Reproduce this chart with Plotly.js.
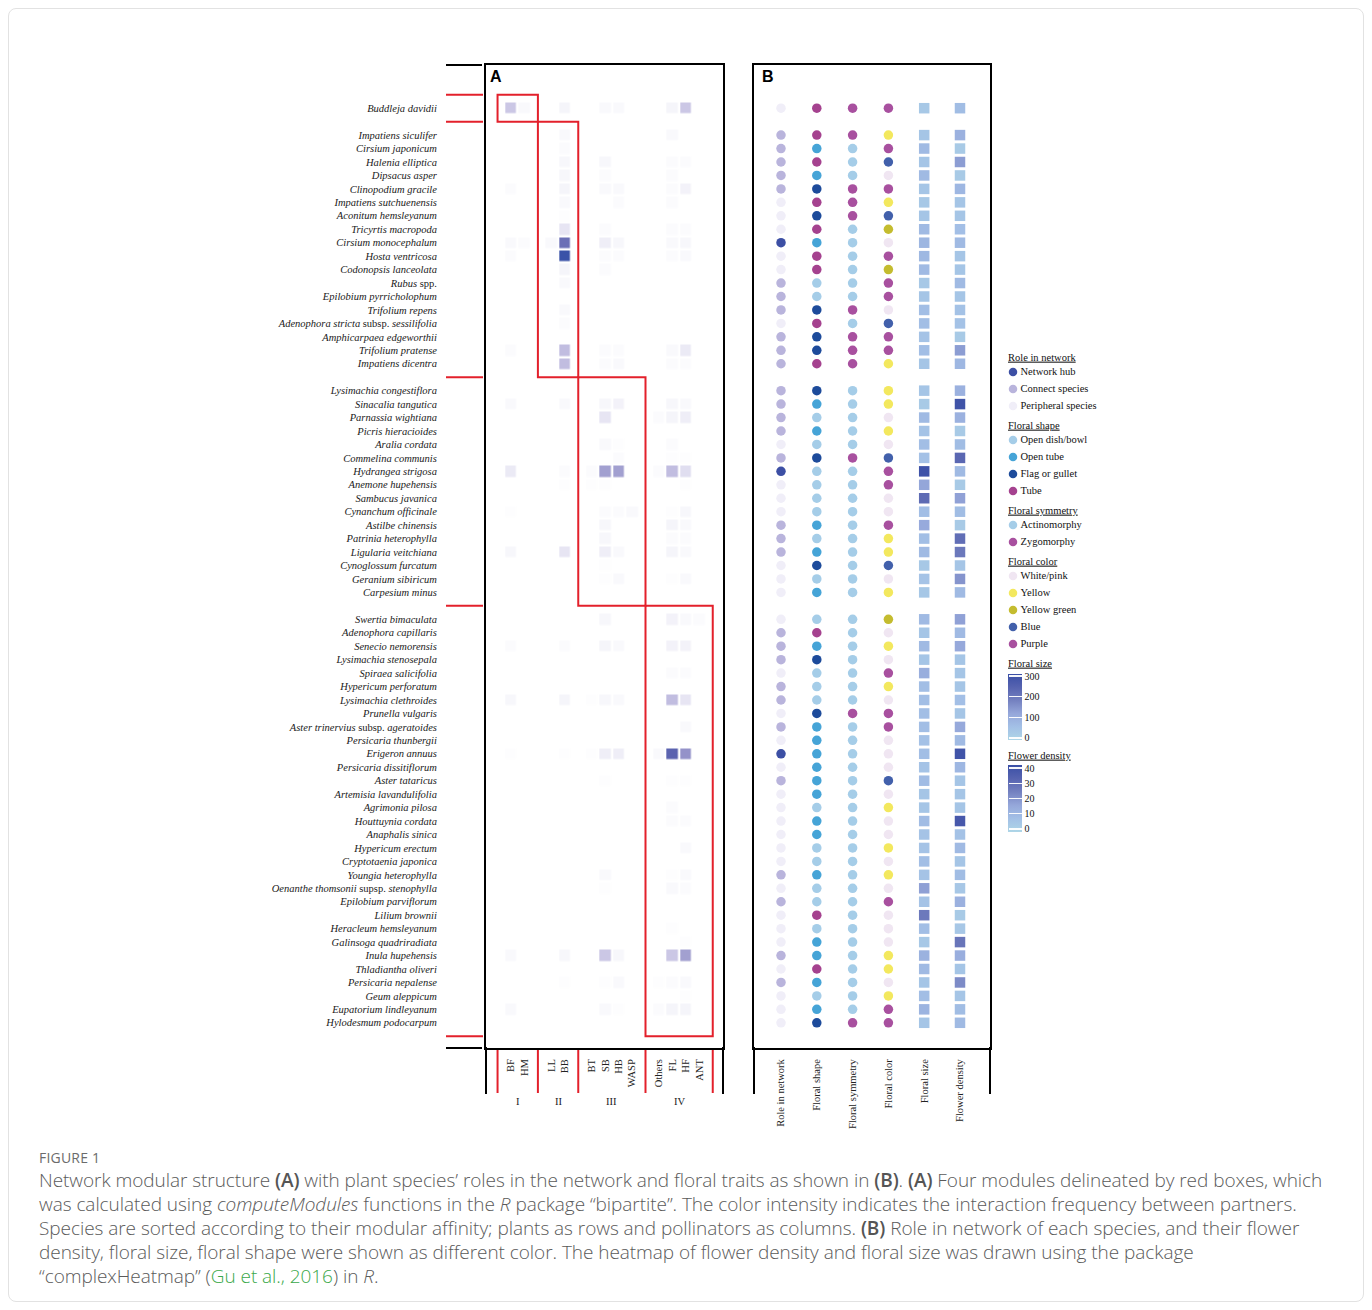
<!DOCTYPE html>
<html><head><meta charset="utf-8">
<script src="https://cdn.plot.ly/plotly-3.0.1.min.js"></script>
<style>
html,body{margin:0;padding:0;background:#fff;}
#card{position:absolute;left:8px;top:8px;width:1356px;height:1294px;border:1px solid #e2e2e2;border-radius:8px;box-sizing:border-box;}
#chart{position:absolute;left:0;top:0;width:1372px;height:1310px;}
#figlabel{position:absolute;left:39px;top:1148px;font-family:'Open Sans',sans-serif;font-size:14px;color:#6b6b6b;letter-spacing:0.2px;}
#caption{position:absolute;left:39px;top:1168px;font-family:'Open Sans',sans-serif;font-weight:300;font-size:19px;line-height:24px;color:#5a5a5a;white-space:nowrap;letter-spacing:-0.05px;}
#caption b{font-weight:600;color:#555;}
#caption a{color:#3aa84a;text-decoration:none;}
</style></head>
<body>
<div id="card"></div>
<div id="chart"></div>
<div id="figlabel">FIGURE 1</div>
<div id="caption">Network modular structure <b>(A)</b> with plant species’ roles in the network and floral traits as shown in <b>(B)</b>. <b>(A)</b> Four modules delineated by red boxes, which<br>was calculated using <i>computeModules</i> functions in the <i>R</i> package “bipartite”. The color intensity indicates the interaction frequency between partners.<br>Species are sorted according to their modular affinity; plants as rows and pollinators as columns. <b>(B)</b> Role in network of each species, and their flower<br>density, floral size, floral shape were shown as different color. The heatmap of flower density and floral size was drawn using the package<br>“complexHeatmap” (<a>Gu et al., 2016</a>) in <i>R</i>.</div>
<script>
// ---------------- data ----------------
const modules = ['I','II','III','IV'];
const moduleSizes = [1, 18, 16, 31];
const pollinatorGroups = [['BF','HM'],['LL','BB'],['BT','SB','HB','WASP'],['Others','FL','HF','ANT']];
const plants = [
'Buddleja davidii',
'Impatiens siculifer','Cirsium japonicum','Halenia elliptica','Dipsacus asper','Clinopodium gracile','Impatiens sutchuenensis','Aconitum hemsleyanum','Tricyrtis macropoda','Cirsium monocephalum','Hosta ventricosa','Codonopsis lanceolata','Rubus spp.','Epilobium pyrricholophum','Trifolium repens','Adenophora stricta subsp. sessilifolia','Amphicarpaea edgeworthii','Trifolium pratense','Impatiens dicentra',
'Lysimachia congestiflora','Sinacalia tangutica','Parnassia wightiana','Picris hieracioides','Aralia cordata','Commelina communis','Hydrangea strigosa','Anemone hupehensis','Sambucus javanica','Cynanchum officinale','Astilbe chinensis','Patrinia heterophylla','Ligularia veitchiana','Cynoglossum furcatum','Geranium sibiricum','Carpesium minus',
'Swertia bimaculata','Adenophora capillaris','Senecio nemorensis','Lysimachia stenosepala','Spiraea salicifolia','Hypericum perforatum','Lysimachia clethroides','Prunella vulgaris','Aster trinervius subsp. ageratoides','Persicaria thunbergii','Erigeron annuus','Persicaria dissitiflorum','Aster tataricus','Artemisia lavandulifolia','Agrimonia pilosa','Houttuynia cordata','Anaphalis sinica','Hypericum erectum','Cryptotaenia japonica','Youngia heterophylla','Oenanthe thomsonii supsp. stenophylla','Epilobium parviflorum','Lilium brownii','Heracleum hemsleyanum','Galinsoga quadriradiata','Inula hupehensis','Thladiantha oliveri','Persicaria nepalense','Geum aleppicum','Eupatorium lindleyanum','Hylodesmum podocarpum'];

// interaction intensity, columns: BF HM LL BB BT SB HB WASP Others FL HF ANT
const visits = [
[.25,.03,0,.05,0,.03,.03,0,0,.05,.25,0],
[0,0,0,.03,0,0,0,0,0,.03,0,0],
[0,0,0,.02,0,0,0,0,0,0,0,0],
[0,0,0,.04,0,.04,0,0,0,.02,.02,0],
[0,0,0,.04,0,.02,0,0,0,.02,0,0],
[.02,0,0,.05,0,.03,.03,0,0,.02,.06,0],
[0,0,0,.03,0,0,.02,0,0,.02,0,0],
[0,0,0,.01,0,0,0,0,0,0,0,0],
[0,0,0,.12,0,.02,0,0,0,.02,.02,0],
[.03,.02,.03,.65,0,.08,.04,0,0,.03,.04,0],
[.02,0,0,.88,0,.02,.02,0,0,.02,.03,0],
[0,0,0,.05,0,.02,0,0,0,0,0,0],
[0,0,0,.03,0,0,0,0,0,0,0,0],
[0,0,0,0,0,0,0,0,0,0,0,0],
[0,0,0,.03,0,0,0,0,0,0,0,0],
[0,0,0,.02,0,0,0,0,0,0,0,0],
[0,0,0,0,0,0,0,0,0,0,0,0],
[.02,0,0,.3,0,.02,.02,0,0,.03,.1,0],
[0,0,0,.3,0,.02,.03,0,0,.02,.02,0],
[0,0,0,0,0,0,0,0,0,0,0,0],
[.03,0,0,.03,0,.04,.06,0,0,.04,.03,0],
[0,0,0,0,0,.12,0,0,.02,.05,.08,0],
[0,0,0,0,0,0,0,0,0,0,0,0],
[0,0,0,0,0,.03,.01,0,0,.02,0,0],
[0,0,0,0,0,0,.02,0,0,.01,.01,0],
[.1,0,0,.02,.02,.45,.45,0,.02,.3,.15,0],
[0,0,0,.01,.01,.01,0,0,0,0,.01,0],
[0,0,0,0,0,0,0,0,0,0,0,0],
[.01,0,0,0,0,.02,.02,.03,0,.01,.04,0],
[0,0,0,0,0,.04,0,0,0,.05,.03,0],
[0,0,0,0,0,.04,0,0,0,.02,.02,0],
[.04,0,0,.12,0,.08,.03,0,0,.05,.03,0],
[0,0,0,0,0,.01,0,0,0,0,0,0],
[0,0,0,0,0,.01,.03,0,0,.01,.03,0],
[0,0,0,0,0,0,0,0,0,0,0,0],
[0,0,0,0,0,.04,0,0,0,.06,.03,.02],
[0,0,0,0,0,0,0,0,0,0,0,0],
[.02,0,0,.02,0,.05,.03,0,0,.06,.06,0],
[0,0,0,0,0,0,0,0,0,0,0,0],
[0,0,0,0,0,0,0,0,0,.02,.02,0],
[0,0,0,0,0,0,0,0,0,0,0,0],
[.04,0,0,.05,.01,.04,.03,0,0,.3,.12,0],
[0,0,0,0,0,0,0,0,0,0,0,0],
[0,0,0,0,0,0,0,0,0,0,.03,0],
[0,0,0,0,0,0,0,0,0,0,0,0],
[.01,0,0,.01,.01,.08,.08,0,.03,.72,.5,0],
[0,0,0,0,0,0,0,0,0,0,0,0],
[0,0,0,0,0,.01,0,0,0,.01,.01,0],
[0,0,0,0,0,0,0,0,0,0,0,0],
[0,0,0,0,0,0,0,0,0,.02,0,0],
[0,0,0,0,0,0,0,0,0,.02,.02,0],
[0,0,0,0,0,0,0,0,0,0,0,0],
[0,0,0,0,0,0,0,0,0,0,.03,0],
[0,0,0,0,0,0,0,0,0,0,0,0],
[0,0,0,0,0,.03,0,0,0,.01,.03,0],
[0,0,0,0,0,.01,0,0,0,.03,.02,0],
[0,0,0,0,0,0,0,0,0,0,0,0],
[0,0,0,0,0,0,0,0,0,0,0,0],
[0,0,0,0,0,0,0,0,0,.01,0,0],
[0,0,0,0,0,0,0,0,0,0,.01,0],
[.03,0,0,.04,0,.25,.04,0,0,.25,.45,0],
[0,0,0,0,0,0,0,0,0,0,0,0],
[0,0,0,.01,0,.01,.03,0,.01,.02,.03,0],
[0,0,0,0,0,0,0,0,0,0,.01,0],
[.03,0,0,0,0,.03,.01,0,.02,.05,.05,0],
[0,0,0,0,0,0,0,0,0,0,0,0]];

const roleCode = ['P',
'C','C','C','C','C','P','P','P','H','P','P','C','C','C','P','C','C','C',
'C','C','C','C','P','C','H','P','P','P','C','C','C','P','P','P',
'P','C','C','C','P','C','C','P','C','P','H','P','C','P','P','P','P','P','P','C','P','C','P','P','P','C','P','C','P','P','P'];
const shapeCode = ['T',
'T','O','T','O','F','T','F','T','O','T','T','D','D','F','T','F','F','T',
'F','O','D','O','D','F','D','D','D','D','O','D','O','F','D','O',
'D','T','O','F','D','D','D','F','O','O','O','O','O','O','D','O','O','D','D','O','D','D','T','D','O','O','T','O','D','O','F'];
const symCode = ['Z',
'Z','A','A','A','Z','Z','Z','A','A','A','A','A','A','Z','A','Z','Z','Z',
'A','A','A','A','A','Z','A','A','A','A','A','A','A','A','A','A',
'A','A','A','A','A','A','A','Z','A','A','A','A','A','A','A','A','A','A','A','A','A','A','A','A','A','A','A','A','A','A','Z'];
const colorCode = ['P',
'Y','P','B','W','P','Y','B','G','W','P','G','P','P','W','B','P','P','Y',
'Y','Y','W','Y','W','B','P','P','W','W','P','Y','Y','B','W','Y',
'G','W','Y','W','P','Y','W','P','P','W','W','W','B','W','Y','W','W','Y','W','Y','W','P','W','W','W','Y','Y','W','Y','P','P'];
const floralSize = [30,
40,70,40,70,40,30,40,70,80,75,70,30,40,60,60,45,60,40,
40,25,70,45,60,50,300,120,230,60,110,60,70,30,45,35,
70,40,70,40,100,60,60,60,60,50,60,45,65,40,40,65,45,45,60,45,130,45,200,60,30,90,70,40,60,85,40];
const flowerDensity = [8,
12,3,18,3,10,5,5,7,9,5,5,9,5,6,6,3,18,10,
12,40,12,3,8,32,9,3,17,8,3,30,27,5,20,9,
17,9,15,5,5,5,7,5,15,9,40,10,5,5,5,38,6,9,5,8,4,12,3,4,28,13,5,22,5,8,9];

const traitNames = ['Role in network','Floral shape','Floral symmetry','Floral color','Floral size','Flower density'];
const roleCats = {H:'Network hub', C:'Connect species', P:'Peripheral species'};
const shapeCats = {D:'Open dish/bowl', O:'Open tube', F:'Flag or gullet', T:'Tube'};
const symCats = {A:'Actinomorphy', Z:'Zygomorphy'};
const colorCats = {W:'White/pink', Y:'Yellow', G:'Yellow green', B:'Blue', P:'Purple'};
const sizeTicks = [0,100,200,300];
const densityTicks = [0,10,20,30,40];

// ---------------- styles ----------------
const rolePal = {H:'#3c4fa4', C:'#b9b4dc', P:'#f0eef8'};
const shapePal = {D:'#a5cde8', O:'#46a4d7', F:'#1d4b9b', T:'#a5428f'};
const symPal = {A:'#a5cde8', Z:'#a8509f'};
const colorPal = {W:'#f0e6f2', Y:'#f3e85e', G:'#c4bc2f', B:'#4260ab', P:'#a8509f'};
const heatScale = [[0,'#ffffff'],[0.1,'#ebeaf5'],[0.25,'#cbc7e5'],[0.45,'#a2a0d0'],[0.55,'#8584c2'],[0.7,'#5e64b0'],[0.88,'#3a52a8'],[1,'#30489f']];
const blueScale = [[0,'#aed6e7'],[0.2,'#a3c0e6'],[0.4,'#95a7da'],[0.6,'#7481c0'],[0.8,'#5663b0'],[1,'#3a4fa6']];

const W = 1372, H = 1310;
const px = v => v / W, py = v => 1 - v / H;
const SERIF = 'Liberation Serif, Times New Roman, serif';
const RED = '#e3202b';

// ---------------- layout slots ----------------
const rowSlot = []; const rowBounds = [-1];
{ let r = 0; moduleSizes.forEach(n => { for (let i = 0; i < n; i++) rowSlot.push(r++); rowBounds.push(r); r++; }); }
const colSlot = []; const colNames = []; const colBounds = [-1];
{ let c = 0; pollinatorGroups.forEach(g => { g.forEach(nm => { colSlot.push(c++); colNames.push(nm); }); colBounds.push(c); c++; }); }
const nRows = rowBounds[rowBounds.length-1], nCols = colBounds[colBounds.length-1];

const fmtName = s => s.split(' ').map(w => ['subsp.','spp.','supsp.'].includes(w) ? w : '<i>'+w+'</i>').join(' ');

// heat grid
const grid = Array.from({length:nRows}, () => Array(nCols).fill(null));
visits.forEach((row, i) => row.forEach((v, j) => { grid[rowSlot[i]][colSlot[j]] = v; }));

const traces = [];
traces.push({type:'heatmap', x:[...Array(nCols).keys()], y:[...Array(nRows).keys()], z:grid,
  colorscale:heatScale, zmin:0, zmax:1, xgap:2.4, ygap:2.4, showscale:false, hoverinfo:'skip', xaxis:'x', yaxis:'y'});

const catTraits = [[roleCode, rolePal],[shapeCode, shapePal],[symCode, symPal],[colorCode, colorPal]];
catTraits.forEach(([codes, pal], k) => {
  traces.push({type:'scatter', mode:'markers', x:codes.map(()=>k), y:rowSlot,
    marker:{color:codes.map(c=>pal[c]), size:9.5, line:{width:0}}, xaxis:'x2', yaxis:'y2', hoverinfo:'skip', showlegend:false});
});
const cbBase = {x:px(1008), xanchor:'left', yanchor:'top', lenmode:'pixels', thickness:14, xpad:0, ypad:0,
  outlinewidth:0, ticks:'inside', ticklen:13, tickcolor:'rgba(255,255,255,0.95)', tickwidth:1.5,
  tickfont:{family:SERIF, size:10, color:'#111'}, ticklabelposition:'outside'};
traces.push({type:'scatter', mode:'markers', x:floralSize.map(()=>4), y:rowSlot, xaxis:'x2', yaxis:'y2', hoverinfo:'skip', showlegend:false,
  marker:{symbol:'square', size:10.5, color:floralSize, colorscale:blueScale, cmin:-10, cmax:310, line:{width:0},
    showscale:true, colorbar:Object.assign({}, cbBase, {y:py(674), len:66, tickvals:sizeTicks})}});
traces.push({type:'scatter', mode:'markers', x:flowerDensity.map(()=>5), y:rowSlot, xaxis:'x2', yaxis:'y2', hoverinfo:'skip', showlegend:false,
  marker:{symbol:'square', size:10.5, color:flowerDensity, colorscale:blueScale, cmin:-2, cmax:42, line:{width:0},
    showscale:true, colorbar:Object.assign({}, cbBase, {y:py(765), len:67, tickvals:densityTicks})}});

// ---------------- custom legend ----------------
const legendGroups = [['Role in network', roleCats, rolePal],['Floral shape', shapeCats, shapePal],['Floral symmetry', symCats, symPal],['Floral color', colorCats, colorPal]];
const hdrY = [], hdrT = [], itY = [], itT = [], itC = [];
let ly = 358;
legendGroups.forEach(([title, cats, pal]) => {
  hdrY.push(ly); hdrT.push(title); ly += 14;
  Object.keys(cats).forEach(c => { itY.push(ly); itT.push(cats[c]); itC.push(pal[c]); ly += 17; });
  ly += 3;
});
hdrY.push(ly); hdrT.push('Floral size');
hdrY.push(ly + 92); hdrT.push('Flower density');
const ul = t => '<span style="text-decoration:underline;text-decoration-color:#bbb">'+t+'</span>';
traces.push({type:'scatter', mode:'text', x:hdrY.map(()=>1008), y:hdrY, text:hdrT.map(ul), textposition:'middle right',
  textfont:{family:SERIF, size:10.5, color:'#111'}, xaxis:'x3', yaxis:'y3', hoverinfo:'skip', showlegend:false});
traces.push({type:'scatter', mode:'markers', x:itY.map(()=>1013), y:itY, marker:{color:itC, size:8.5},
  xaxis:'x3', yaxis:'y3', hoverinfo:'skip', showlegend:false});
traces.push({type:'scatter', mode:'text', x:itY.map(()=>1020.5), y:itY, text:itT, textposition:'middle right',
  textfont:{family:SERIF, size:10.5, color:'#111'}, xaxis:'x3', yaxis:'y3', hoverinfo:'skip', showlegend:false});

// ---------------- shapes & annotations ----------------
const shapes = [];
for (let k = 0; k < modules.length; k++) {
  shapes.push({type:'rect', xref:'x', yref:'y', x0:colBounds[k], x1:colBounds[k+1], y0:rowBounds[k], y1:rowBounds[k+1], line:{color:RED, width:2}});
  shapes.push({type:'line', xref:'x', yref:'paper', x0:colBounds[k], x1:colBounds[k], y0:py(1050), y1:py(1093), line:{color:RED, width:2}});
}
shapes.push({type:'line', xref:'x', yref:'paper', x0:colBounds[4], x1:colBounds[4], y0:py(1050), y1:py(1093), line:{color:RED, width:2}});
rowBounds.forEach(b => shapes.push({type:'line', xref:'paper', yref:'y', x0:px(446), x1:px(483), y0:b, y1:b, line:{color:RED, width:2}}));
[0,1].forEach(d => shapes.push({type:'line', xref:'paper', yref:'y domain', x0:px(446), x1:px(482), y0:d, y1:d, line:{color:'#000', width:2}}));
['x domain','x2 domain'].forEach(ref => [0,1].forEach(d =>
  shapes.push({type:'line', xref:ref, yref:'paper', x0:d, x1:d, y0:py(1047), y1:py(1094), line:{color:'#000', width:2}})));

const annotations = [
  {text:'<b>A</b>', xref:'x domain', yref:'y domain', x:0.01, y:0.999, xanchor:'left', yanchor:'top', showarrow:false, font:{family:'Liberation Sans, Arial', size:16, color:'#000'}},
  {text:'<b>B</b>', xref:'x2 domain', yref:'y2 domain', x:0.025, y:0.999, xanchor:'left', yanchor:'top', showarrow:false, font:{family:'Liberation Sans, Arial', size:16, color:'#000'}}
];
modules.forEach((m, k) => annotations.push({text:m, xref:'x', yref:'paper', x:(colBounds[k]+colBounds[k+1])/2, y:py(1101),
  yanchor:'middle', showarrow:false, font:{family:SERIF, size:10.5, color:'#222'}}));

const axBase = {showgrid:false, zeroline:false, showline:true, mirror:true, linecolor:'#000', linewidth:2, fixedrange:true};
const yRange = [(1048-108.2)/13.45, (65-108.2)/13.45];
const layout = {
  width:W, height:H, margin:{l:0,r:0,t:0,b:0}, paper_bgcolor:'rgba(0,0,0,0)', plot_bgcolor:'rgba(0,0,0,0)',
  showlegend:false,
  xaxis: Object.assign({}, axBase, {domain:[px(486), px(723)], range:[(486-511)/13.45, (723-511)/13.45], anchor:'y',
    tickvals:colSlot, ticktext:colNames, tickangle:-90, ticks:'outside', ticklen:5, tickcolor:'rgba(0,0,0,0)',
    tickfont:{family:SERIF, size:10.5, color:'#222'}}),
  yaxis: Object.assign({}, axBase, {domain:[py(1048), py(65)], range:yRange, anchor:'x',
    tickvals:rowSlot, ticktext:plants.map(fmtName), ticks:'outside', ticklen:45, tickcolor:'rgba(0,0,0,0)',
    tickfont:{family:SERIF, size:10.5, color:'#1a1a1a'}}),
  xaxis2: Object.assign({}, axBase, {domain:[px(754), px(990)], range:[(754-781)/35.8, (990-781)/35.8], anchor:'y2',
    tickvals:[0,1,2,3,4,5], ticktext:traitNames, tickangle:-90, ticks:'outside', ticklen:5, tickcolor:'rgba(0,0,0,0)',
    tickfont:{family:SERIF, size:10.5, color:'#222'}}),
  yaxis2: Object.assign({}, axBase, {domain:[py(1048), py(65)], range:yRange, anchor:'x2', showticklabels:false, ticks:''}),
  xaxis3: {domain:[px(1000), px(1140)], range:[1000,1140], visible:false, anchor:'y3', fixedrange:true},
  yaxis3: {domain:[py(850), py(340)], range:[850,340], visible:false, anchor:'x3', fixedrange:true},
  shapes, annotations
};
Plotly.newPlot('chart', traces, layout, {displayModeBar:false, staticPlot:true});
</script>
</body></html>
